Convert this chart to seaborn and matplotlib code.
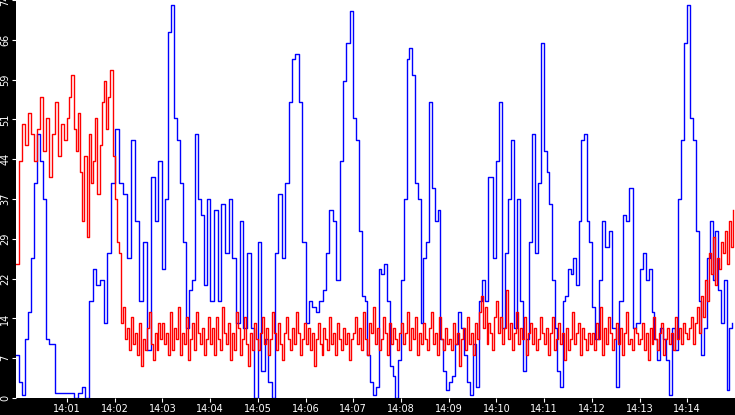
import numpy as np
import pandas as pd
import matplotlib
matplotlib.use("Agg")
import matplotlib.pyplot as plt
import seaborn as sns

# values per minute (14:00 .. 14:14)
blue_by_minute = [
    [8, 3, 0.5, 11, 16, 26, 40, 49, 44, 37, 11, 10, 10, 1, 1, 1, 1],
    [1, 1, 0, 1, 2, 0, 18, 24, 21, 22, 14, 27, 40],
    [50, 40, 38, 26, 48, 33, 18, 29, 9, 41, 33, 44],
    [24, 37, 68, 73, 52, 48, 40, 29, 13, 20, 22, 49, 37, 34, 21, 37],
    [18, 35, 18, 36, 27, 37, 26, 14, 33, 13, 27, 13, 0],
    [29, 5, 11, 3, 0, 27, 38, 26, 40, 55, 63, 64, 55, 29],
    [14, 18, 17, 16, 18, 20, 27, 35, 33, 22, 44, 59, 66, 72],
    [52, 48, 31, 19, 18, 8, 3, 0.5, 2, 24, 23, 25, 18, 6, 4, 0, 7],
    [22, 37, 63, 65, 60, 40, 37, 14, 26, 29, 55, 39, 33, 35, 11, 5, 1.5],
    [3, 4, 10, 16, 13, 8, 3, 0.5, 10, 2, 18, 22, 18, 41, 41, 26],
    [44, 55, 13, 27, 37, 48, 13, 37, 18, 5, 11, 29, 49, 27, 40, 66],
    [46, 42, 36, 22, 13, 5, 2, 18, 19, 24, 23, 26, 21, 33, 48, 49, 33, 29],
    [17, 11, 22, 33, 28, 31, 13, 2, 18, 34, 33, 39, 13, 14],
    [24, 27, 22, 24, 16, 11, 7, 13, 11, 7, 0.5, 13, 9, 37, 48, 66],
    [73, 52, 48, 31, 18, 8, 13, 26, 33, 22, 31, 20, 14, 22, 1.5, 13, 14],
]
red_by_minute = [
    [25, 44, 51, 47, 53, 49, 44, 50, 56, 46, 52, 41, 49, 55, 45, 51, 48],
    [52, 56, 60, 50, 46, 53, 42, 33, 45, 30, 49, 40, 44, 52, 38, 47, 55, 59, 50, 56, 61, 45],
    [37, 29, 27, 14, 17, 11, 13, 9, 15, 10, 12, 8, 14, 6, 11, 9, 13, 16, 10, 7, 12, 9, 14, 11],
    [14, 10, 12, 8, 16, 9, 13, 11, 17, 8, 12, 10, 15, 7, 11, 14, 9, 16, 12, 10, 13, 8, 11, 15],
    [10, 13, 8, 15, 11, 9, 17, 12, 10, 14, 7, 12, 9, 16, 13, 8, 11, 15, 10, 6, 12, 9, 14, 11],
    [9, 12, 15, 10, 13, 8, 11, 16, 12, 9, 14, 10, 7, 12, 15, 11, 9, 13, 10, 16, 12, 8, 11, 14],
    [10, 13, 9, 12, 6, 11, 14, 10, 8, 13, 11, 9, 15, 10, 12, 8, 14, 11, 9, 13, 10, 12, 7, 11],
    [12, 15, 10, 13, 9, 16, 11, 8, 14, 12, 17, 10, 13, 9, 11, 15, 12, 8, 14, 10, 13, 11, 9, 12],
    [14, 10, 12, 16, 9, 13, 11, 15, 8, 12, 10, 14, 11, 9, 13, 16, 10, 12, 8, 15, 11, 9, 13, 10],
    [11, 9, 14, 10, 12, 6, 11, 13, 9, 15, 10, 12, 8, 14, 11, 16, 19, 13, 17, 10, 14, 12, 9, 15],
    [18, 12, 15, 10, 13, 20, 11, 14, 9, 12, 16, 10, 13, 11, 15, 8, 12, 14, 10, 13, 9, 11, 15, 12],
    [10, 13, 8, 12, 15, 9, 11, 14, 10, 12, 7, 13, 9, 11, 16, 10, 12, 14, 8, 13, 11, 9, 12, 10],
    [12, 9, 14, 11, 17, 8, 13, 10, 15, 12, 9, 11, 14, 10, 13, 8, 12, 16, 10, 11, 9, 13, 12, 10],
    [11, 14, 9, 12, 7, 13, 10, 15, 11, 9, 12, 14, 8, 11, 13, 10, 12, 9, 15, 11, 13, 10, 14, 12],
    [11, 13, 15, 10, 14, 17, 12, 19, 15, 22, 18, 27, 23, 30, 21, 26, 24, 29, 27, 31, 25, 33, 28, 35],
]
x_tick_labels = ["14:01", "14:02", "14:03", "14:04", "14:05", "14:06", "14:07",
                 "14:08", "14:09", "14:10", "14:11", "14:12", "14:13", "14:14"]
y_tick_labels = ["0", "7", "14", "22", "29", "37", "44", "51", "59", "66", "74"]

X_START = -0.07
X_END = 15.0

def build(groups, name):
    rows = []
    for i, vals in enumerate(groups):
        lo = X_START if i == 0 else i
        hi = i + 1
        ts = np.linspace(lo, hi, len(vals), endpoint=False)
        for t, v in zip(ts, vals):
            rows.append((t, v, name))
    return rows

df = pd.DataFrame(build(blue_by_minute, "blue") + build(red_by_minute, "red"),
                  columns=["t", "v", "s"])

fig = plt.figure(figsize=(7.35, 4.15), dpi=100, facecolor="black")
ax = fig.add_axes([16 / 735, 17 / 415, 719 / 735, 398 / 415])
ax.set_facecolor("white")
sns.lineplot(data=df[df.s == "blue"], x="t", y="v", color="#0000ff", lw=1,
             drawstyle="steps-post", estimator=None, ax=ax)
sns.lineplot(data=df[df.s == "red"], x="t", y="v", color="#ff0000", lw=1,
             drawstyle="steps-post", estimator=None, ax=ax)
ax.set_xlim(X_START, X_END)
ax.set_ylim(0, 74)
ax.set_xticks(range(1, 15))
ax.set_xticklabels(x_tick_labels)
ax.set_yticks(np.linspace(0, 74, 11))
ax.set_yticklabels(y_tick_labels, rotation=90, va="center")
ax.tick_params(colors="white", labelsize=7, length=3, pad=1)
ax.set_xlabel("")
ax.set_ylabel("")
for s in ax.spines.values():
    s.set_visible(False)
fig.savefig("out.png", dpi=100, facecolor="black")
